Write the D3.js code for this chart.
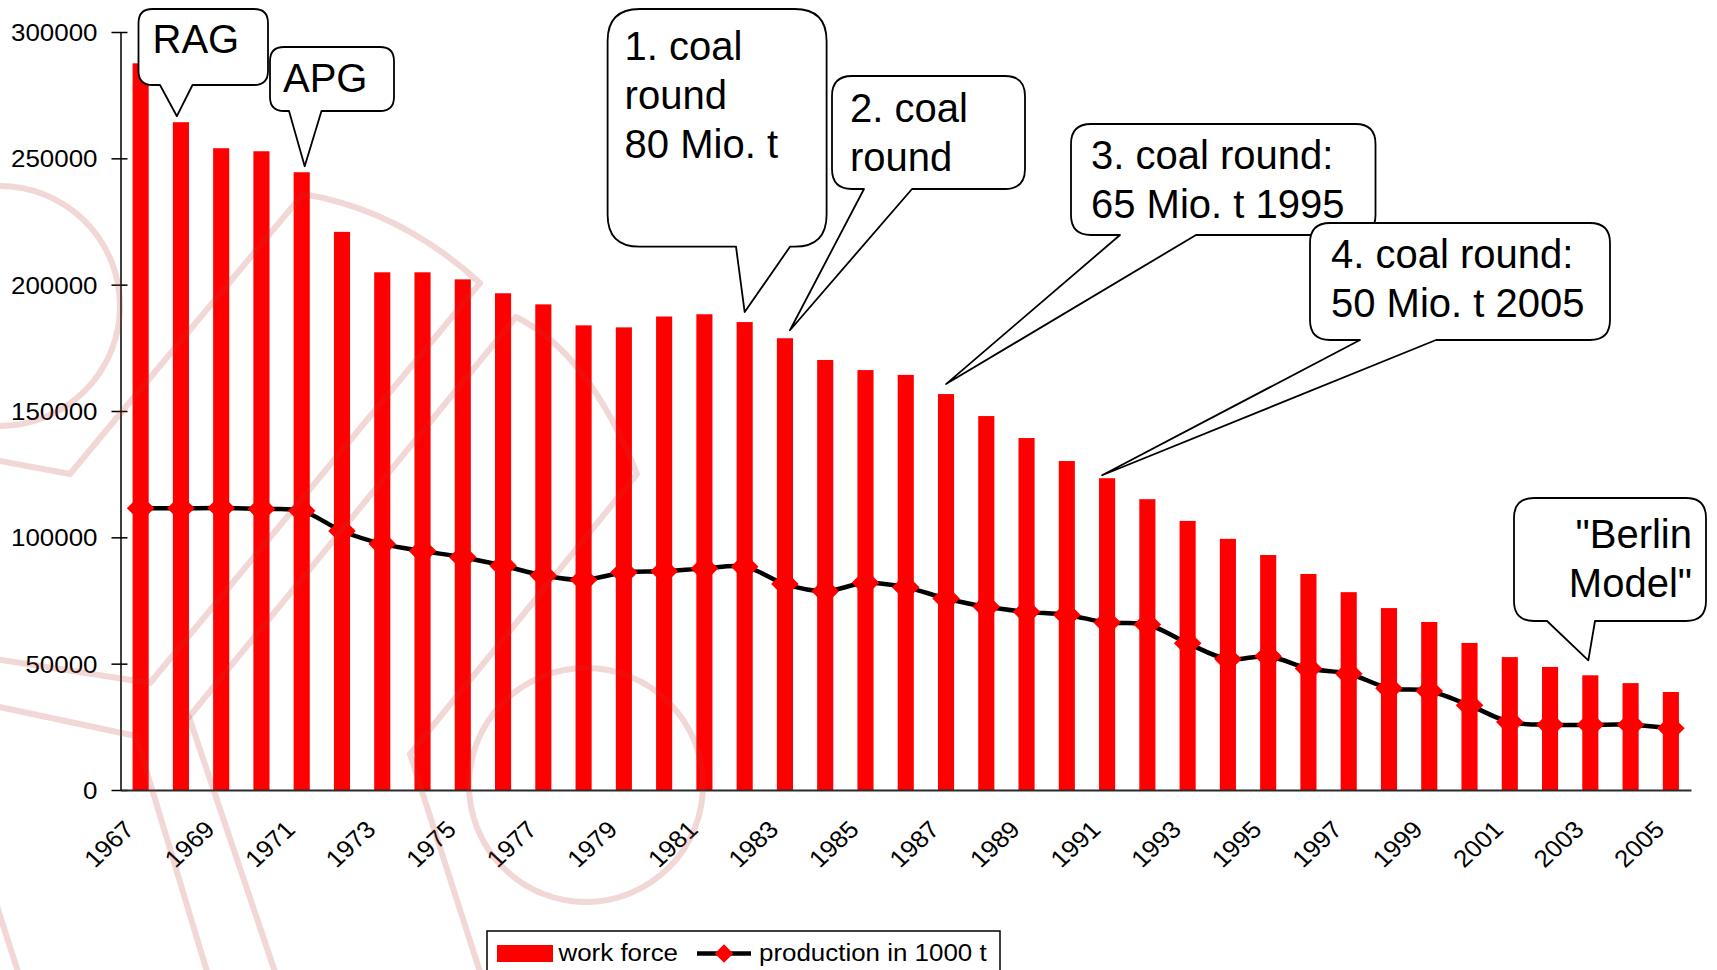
<!DOCTYPE html>
<html>
<head>
<meta charset="utf-8">
<script src="https://cdn.jsdelivr.net/npm/d3@7"></script>
<style>
  html, body { margin: 0; padding: 0; background: #fff; }
  svg { display: block; font-family: "Liberation Sans", Arial, sans-serif; }
</style>
</head>
<body>
<svg id="chart" width="1717" height="970"></svg>
<script>
// ---- data ---------------------------------------------------------------
const years = ["1967","1968","1969","1970","1971","1972","1973","1974","1975","1976",
               "1977","1978","1979","1980","1981","1982","1983","1984","1985","1986",
               "1987","1988","1989","1990","1991","1992","1993","1994","1995","1996",
               "1997","1998","1999","2000","2001","2002","2003","2004","2005"];

// employees in German hard coal mining
const workForce = [287600, 264300, 254000, 252800, 244500, 220900, 204900, 204900, 202100, 196600,
                   192200, 183900, 183100, 187400, 188300, 185200, 178800, 170200, 166200, 164300,
                   156700, 148000, 139300, 130200, 123400, 115100, 106500, 99400, 93000, 85500,
                   78300, 72000, 66500, 58200, 52600, 48700, 45400, 42300, 38800];

// hard coal output in 1000 t
const production = [111500, 111500, 111600, 111200, 110500, 102500, 97400, 94600, 92100, 88800,
                    84900, 83200, 86100, 86600, 87700, 88400, 81500, 78700, 82000, 80200,
                    75800, 72500, 70500, 69300, 66300, 65500, 58100, 51800, 52900, 48100,
                    46000, 40300, 39200, 33500, 26900, 25800, 25800, 25800, 24400];

const yTicks = [0, 50000, 100000, 150000, 200000, 250000, 300000];
const xTickLabels = ["1967","1969","1971","1973","1975","1977","1979","1981","1983","1985",
                     "1987","1989","1991","1993","1995","1997","1999","2001","2003","2005"];

const seriesNames = ["work force", "production in 1000 t"];

// callout texts and the bar each one points at
const noteLines = [["RAG"], ["APG"], ["1. coal", "round", "80 Mio. t"], ["2. coal", "round"],
                   ["3. coal round:", "65 Mio. t 1995"], ["4. coal round:", "50 Mio. t 2005"],
                   ["\"Berlin", "Model\""]];
const noteYears = ["1968", "1971", "1982", "1983", "1987", "1991", "2003"];

// ---- layout -------------------------------------------------------------
const W = 1717, H = 970;
const plot = { left: 120.5, right: 1691, top: 32, bottom: 790 };
const RED = "#ff0000";
const STRETCH = 1.08;   // axis / legend lettering is set slightly wide

// callout boxes: [x0, y0, x1, y1], pointer base on the lower edge, tip offset
// from the bar top, corner radius, text inset
const noteLayout = [
  { box: [138.5, 9, 268, 85],      base: [160, 192.5],  tip: [-4, 6],  r: 14, tx: 14, ty: 44 },
  { box: [270, 47, 394, 111],      base: [289, 321.5],  tip: [3, 6],   r: 14, tx: 13, ty: 45 },
  { box: [607.6, 9, 826.6, 246.7], base: [736, 790],    tip: [0, 10],  r: 32, tx: 17, ty: 51 },
  { box: [832, 76, 1025, 189],     base: [864, 912],    tip: [5, 8],   r: 20, tx: 18, ty: 46 },
  { box: [1071, 124, 1375.5, 235], base: [1120, 1196],  tip: [0, 10],  r: 20, tx: 20, ty: 45 },
  { box: [1310, 223, 1610, 340],   base: [1360, 1436],  tip: [-5, 3],  r: 20, tx: 21, ty: 45 },
  { box: [1514, 498, 1706, 621],   base: [1547, 1595],  tip: [-2, 15], r: 20, tx: -14, ty: 50, align: "end" }
];

const svg = d3.select("#chart");

const x = d3.scaleBand()
  .domain(years)
  .range([plot.left, plot.right])
  .paddingInner(0.6)
  .paddingOuter(0.3);

const y = d3.scaleLinear()
  .domain([0, 300000])
  .range([plot.bottom, plot.top]);

const bw = x.bandwidth();
const cx = yr => x(yr) + bw / 2;

// ---- bars -----------------------------------------------------------------
svg.append("g").attr("class", "bars")
  .selectAll("rect")
  .data(years.map((yr, i) => ({ yr, v: workForce[i] })))
  .join("rect")
  .attr("x", d => x(d.yr))
  .attr("y", d => y(d.v))
  .attr("width", bw)
  .attr("height", d => y(0) - y(d.v))
  .attr("fill", RED);

// ---- production line --------------------------------------------------------
const prodPts = years.map((yr, i) => ({ yr, v: production[i] }));

svg.append("path")
  .datum(prodPts)
  .attr("fill", "none")
  .attr("stroke", "#000")
  .attr("stroke-width", 4.5)
  .attr("stroke-linejoin", "round")
  .attr("d", d3.line()
    .x(d => cx(d.yr))
    .y(d => y(d.v))
    .curve(d3.curveCatmullRom.alpha(0.5)));

const diamond = d3.symbol(d3.symbolSquare, 380);
svg.append("g").attr("class", "markers")
  .selectAll("path")
  .data(prodPts)
  .join("path")
  .attr("d", diamond)
  .attr("transform", d => `translate(${cx(d.yr)},${y(d.v)}) rotate(45)`)
  .attr("fill", RED);

// ---- axes -----------------------------------------------------------------
const yAxis = svg.append("g")
  .attr("transform", `translate(${plot.left},0)`)
  .call(d3.axisLeft(y).tickValues(yTicks).tickFormat(d3.format("d")).tickSizeOuter(0).tickSizeInner(9));
yAxis.select(".domain").attr("stroke", "#000").attr("stroke-width", 1.5);
yAxis.selectAll(".tick line").attr("x1", 7).attr("x2", -9).attr("stroke", "#000").attr("stroke-width", 1.5);
yAxis.selectAll(".tick text")
  .attr("x", 0).attr("dy", "0.36em")
  .attr("transform", `translate(-23,0) scale(${STRETCH},1)`)
  .attr("text-anchor", "end")
  .attr("fill", "#000")
  .style("font-size", "24px")
  .style("font-family", "'Liberation Sans', Arial, sans-serif");

const xAxis = svg.append("g")
  .attr("transform", `translate(0,${plot.bottom})`)
  .call(d3.axisBottom(x).tickValues(xTickLabels).tickSize(0).tickSizeOuter(0));
xAxis.select(".domain").attr("stroke", "#2a2a2a").attr("stroke-width", 2.2);
xAxis.selectAll(".tick text")
  .attr("x", 0).attr("y", 0).attr("dy", 0)
  .attr("text-anchor", "end")
  .attr("transform", `translate(-5,41) scale(${STRETCH},1) rotate(-45)`)
  .attr("fill", "#000")
  .style("font-size", "24px")
  .style("font-family", "'Liberation Sans', Arial, sans-serif");

// ---- callouts ---------------------------------------------------------------
function bubblePath(L, tip) {
  const [x0, y0, x1, y1] = L.box, r = L.r, [b1, b2] = L.base;
  return `M${x0 + r},${y0} H${x1 - r} Q${x1},${y0} ${x1},${y0 + r} V${y1 - r} ` +
         `Q${x1},${y1} ${x1 - r},${y1} H${b2} L${tip[0]},${tip[1]} L${b1},${y1} ` +
         `H${x0 + r} Q${x0},${y1} ${x0},${y1 - r} V${y0 + r} Q${x0},${y0} ${x0 + r},${y0} Z`;
}

const notes = svg.append("g").attr("class", "callouts");
noteLayout.forEach((L, i) => {
  const yr = noteYears[i];
  const v = workForce[years.indexOf(yr)];
  const tip = [cx(yr) + L.tip[0], y(v) - L.tip[1]];
  const g = notes.append("g");
  g.append("path")
    .attr("d", bubblePath(L, tip))
    .attr("fill", "#fff")
    .attr("stroke", "#000")
    .attr("stroke-width", 1.8)
    .attr("stroke-linejoin", "round");
  const tx = L.align === "end" ? L.box[2] + L.tx : L.box[0] + L.tx;
  g.selectAll("text")
    .data(noteLines[i])
    .join("text")
    .attr("x", tx)
    .attr("y", (d, k) => L.box[1] + L.ty + k * 49)
    .attr("text-anchor", L.align === "end" ? "end" : "start")
    .attr("fill", "#000")
    .style("font-size", "40px")
    .text(d => d);
});

// ---- legend -----------------------------------------------------------------
const lg = svg.append("g").attr("class", "legend");
lg.append("rect")
  .attr("x", 487).attr("y", 931).attr("width", 513).attr("height", 60)
  .attr("fill", "#fff").attr("stroke", "#000").attr("stroke-width", 1.5);
lg.append("rect")
  .attr("x", 497).attr("y", 945).attr("width", 56).attr("height", 17)
  .attr("fill", RED);
lg.append("line")
  .attr("x1", 697).attr("x2", 751).attr("y1", 953.5).attr("y2", 953.5)
  .attr("stroke", "#000").attr("stroke-width", 4.5);
lg.append("path")
  .attr("d", d3.symbol(d3.symbolSquare, 170))
  .attr("transform", "translate(724,953.5) rotate(45)")
  .attr("fill", RED);
lg.selectAll("text.item")
  .data(seriesNames)
  .join("text")
  .attr("class", "item")
  .attr("transform", (d, i) => `translate(${i === 0 ? 558.5 : 759},961) scale(${STRETCH},1)`)
  .attr("fill", "#000")
  .style("font-size", "24px")
  .text(d => d);

// ---- faint logo watermark ----------------------------------------------------
const wm = svg.append("g")
  .attr("fill", "none")
  .attr("stroke", "rgb(185,55,45)")
  .attr("stroke-opacity", 0.2)
  .attr("stroke-width", 6)
  .attr("stroke-linejoin", "round")
  .attr("stroke-linecap", "round");
wm.append("circle").attr("cx", 0).attr("cy", 306).attr("r", 120);
wm.append("circle").attr("cx", 586).attr("cy", 785).attr("r", 117);
[
  "M-5,460 L70,474 L303,194 Q400,210 480,283 L150,683 L-5,659",
  "M189,717 L516,317 Q588,352 637,474 L410,754 L481,975",
  "M189,717 L276,975",
  "M-5,706 L136,736 L208,975",
  "M-5,900 L19,975"
].forEach(d => wm.append("path").attr("d", d));
</script>
</body>
</html>
